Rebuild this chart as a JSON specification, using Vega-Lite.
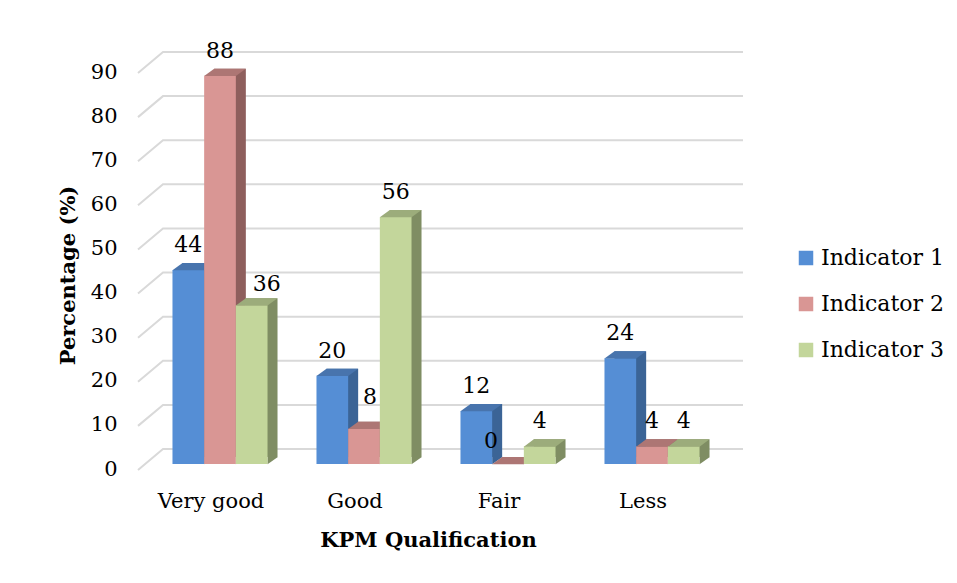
{
  "$schema": "https://vega.github.io/schema/vega-lite/v6.json",
  "width": 580,
  "height": 397,
  "autosize": {"type": "none"},
  "padding": {"left": 163, "top": 67, "right": 214, "bottom": 119},
  "background": "white",
  "datasets": {
    "main": [
      {"cat": "Very good", "ind": "Indicator 1", "v": 44},
      {"cat": "Very good", "ind": "Indicator 2", "v": 88},
      {"cat": "Very good", "ind": "Indicator 3", "v": 36},
      {"cat": "Good", "ind": "Indicator 1", "v": 20},
      {"cat": "Good", "ind": "Indicator 2", "v": 8},
      {"cat": "Good", "ind": "Indicator 3", "v": 56},
      {"cat": "Fair", "ind": "Indicator 1", "v": 12},
      {"cat": "Fair", "ind": "Indicator 2", "v": 0},
      {"cat": "Fair", "ind": "Indicator 3", "v": 4},
      {"cat": "Less", "ind": "Indicator 1", "v": 24},
      {"cat": "Less", "ind": "Indicator 2", "v": 4},
      {"cat": "Less", "ind": "Indicator 3", "v": 4}
    ],
    "grid": [
      {"v": 0}, {"v": 10}, {"v": 20}, {"v": 30}, {"v": 40},
      {"v": 50}, {"v": 60}, {"v": 70}, {"v": 80}, {"v": 90}
    ]
  },
  "data": {"name": "main"},
  "encoding": {
    "y": {
      "field": "v", "type": "quantitative",
      "scale": {"domain": [0, 90], "nice": false},
      "axis": {
        "title": "Percentage (%)",
        "values": [0, 10, 20, 30, 40, 50, 60, 70, 80, 90],
        "grid": false, "domain": false, "ticks": false,
        "labelPadding": 46, "labelOffset": 5, "titlePadding": 12, "titleY": 208
      }
    }
  },
  "resolve": {"scale": {"xOffset": "independent"}},
  "layer": [
    {
      "data": {"name": "grid"},
      "mark": {"type": "point", "shape": "M -315 6 L -290 -15 L 290 -15", "size": 4, "filled": false, "stroke": "#d9d9d9", "strokeWidth": 2, "opacity": 1}
    },
    {
      "transform": [{"filter": "datum.ind == 'Indicator 1'"}],
      "mark": {"type": "bar", "color": "#3b6496", "yOffset": -7, "y2Offset": -7},
      "encoding": {
        "x": {"field": "cat", "type": "nominal", "sort": ["Very good", "Good", "Fair", "Less"], "scale": {"range": [-15, 561], "paddingInner": 0.34, "paddingOuter": 0.17}, "axis": {"title": "KPM Qualification", "labelAngle": 0, "domain": false, "ticks": false, "labelPadding": 26, "labelOffset": -9, "titlePadding": 18, "titleX": 265}},
        "xOffset": {"field": "ind", "type": "nominal", "scale": {"domain": ["Indicator 1", "Indicator 2", "Indicator 3"], "range": [10, 105.04]}}
      }
    },
    {
      "transform": [{"filter": "datum.ind == 'Indicator 1'"}],
      "mark": {"type": "point", "shape": "M 15.84 -7 L 26.2 -7 L 15.84 0.3 Z", "size": 4, "filled": true, "color": "#3b6496", "opacity": 1, "strokeWidth": 0},
      "encoding": {
        "x": {"field": "cat", "type": "nominal", "sort": ["Very good", "Good", "Fair", "Less"]},
        "xOffset": {"field": "ind", "type": "nominal", "scale": {"domain": ["Indicator 1", "Indicator 2", "Indicator 3"]}},
        "y": {"datum": 0}
      }
    },
    {
      "transform": [{"filter": "datum.ind == 'Indicator 1'"}],
      "mark": {"type": "bar"},
      "encoding": {
        "x": {"field": "cat", "type": "nominal", "sort": ["Very good", "Good", "Fair", "Less"]},
        "xOffset": {"field": "ind", "type": "nominal", "scale": {"domain": ["Indicator 1", "Indicator 2", "Indicator 3"]}},
        "color": {"field": "ind", "type": "nominal", "scale": {"domain": ["Indicator 1", "Indicator 2", "Indicator 3"], "range": ["#558ed5", "#d99694", "#c3d69b"]}, "legend": {"orient": "none", "legendX": 632, "legendY": 180, "title": null, "symbolType": "square", "symbolSize": 210, "symbolStrokeWidth": 0, "labelFontSize": 22, "labelFont": "DejaVu Serif", "labelColor": "#000", "labelOffset": 4, "rowPadding": 24}}
      }
    },
    {
      "transform": [{"filter": "datum.ind == 'Indicator 1'"}],
      "mark": {"type": "point", "shape": "M -15.84 0.3 L 15.84 0.3 L 25.84 -7 L -5.84 -7 Z", "size": 4, "filled": true, "color": "#4874ad", "opacity": 1, "strokeWidth": 0},
      "encoding": {
        "x": {"field": "cat", "type": "nominal", "sort": ["Very good", "Good", "Fair", "Less"]},
        "xOffset": {"field": "ind", "type": "nominal", "scale": {"domain": ["Indicator 1", "Indicator 2", "Indicator 3"]}}
      }
    },
    {
      "transform": [{"filter": "datum.ind == 'Indicator 2'"}],
      "mark": {"type": "bar", "color": "#8e5f5d", "yOffset": -7, "y2Offset": -7},
      "encoding": {
        "x": {"field": "cat", "type": "nominal", "sort": ["Very good", "Good", "Fair", "Less"]},
        "xOffset": {"field": "ind", "type": "nominal", "scale": {"domain": ["Indicator 1", "Indicator 2", "Indicator 3"], "range": [10, 105.04]}}
      }
    },
    {
      "transform": [{"filter": "datum.ind == 'Indicator 2'"}],
      "mark": {"type": "point", "shape": "M 15.84 -7 L 26.2 -7 L 15.84 0.3 Z", "size": 4, "filled": true, "color": "#8e5f5d", "opacity": 1, "strokeWidth": 0},
      "encoding": {
        "x": {"field": "cat", "type": "nominal", "sort": ["Very good", "Good", "Fair", "Less"]},
        "xOffset": {"field": "ind", "type": "nominal", "scale": {"domain": ["Indicator 1", "Indicator 2", "Indicator 3"]}},
        "y": {"datum": 0}
      }
    },
    {
      "transform": [{"filter": "datum.ind == 'Indicator 2'"}],
      "mark": {"type": "bar"},
      "encoding": {
        "x": {"field": "cat", "type": "nominal", "sort": ["Very good", "Good", "Fair", "Less"]},
        "xOffset": {"field": "ind", "type": "nominal", "scale": {"domain": ["Indicator 1", "Indicator 2", "Indicator 3"]}},
        "color": {"field": "ind", "type": "nominal", "scale": {"domain": ["Indicator 1", "Indicator 2", "Indicator 3"], "range": ["#558ed5", "#d99694", "#c3d69b"]}}
      }
    },
    {
      "transform": [{"filter": "datum.ind == 'Indicator 2'"}],
      "mark": {"type": "point", "shape": "M -15.84 0.3 L 15.84 0.3 L 25.84 -7 L -5.84 -7 Z", "size": 4, "filled": true, "color": "#ad7674", "opacity": 1, "strokeWidth": 0},
      "encoding": {
        "x": {"field": "cat", "type": "nominal", "sort": ["Very good", "Good", "Fair", "Less"]},
        "xOffset": {"field": "ind", "type": "nominal", "scale": {"domain": ["Indicator 1", "Indicator 2", "Indicator 3"]}}
      }
    },
    {
      "transform": [{"filter": "datum.ind == 'Indicator 3'"}],
      "mark": {"type": "bar", "color": "#7f8d63", "yOffset": -7, "y2Offset": -7},
      "encoding": {
        "x": {"field": "cat", "type": "nominal", "sort": ["Very good", "Good", "Fair", "Less"]},
        "xOffset": {"field": "ind", "type": "nominal", "scale": {"domain": ["Indicator 1", "Indicator 2", "Indicator 3"], "range": [10, 105.04]}}
      }
    },
    {
      "transform": [{"filter": "datum.ind == 'Indicator 3'"}],
      "mark": {"type": "point", "shape": "M 15.84 -7 L 26.2 -7 L 15.84 0.3 Z", "size": 4, "filled": true, "color": "#7f8d63", "opacity": 1, "strokeWidth": 0},
      "encoding": {
        "x": {"field": "cat", "type": "nominal", "sort": ["Very good", "Good", "Fair", "Less"]},
        "xOffset": {"field": "ind", "type": "nominal", "scale": {"domain": ["Indicator 1", "Indicator 2", "Indicator 3"]}},
        "y": {"datum": 0}
      }
    },
    {
      "transform": [{"filter": "datum.ind == 'Indicator 3'"}],
      "mark": {"type": "bar"},
      "encoding": {
        "x": {"field": "cat", "type": "nominal", "sort": ["Very good", "Good", "Fair", "Less"]},
        "xOffset": {"field": "ind", "type": "nominal", "scale": {"domain": ["Indicator 1", "Indicator 2", "Indicator 3"]}},
        "color": {"field": "ind", "type": "nominal", "scale": {"domain": ["Indicator 1", "Indicator 2", "Indicator 3"], "range": ["#558ed5", "#d99694", "#c3d69b"]}}
      }
    },
    {
      "transform": [{"filter": "datum.ind == 'Indicator 3'"}],
      "mark": {"type": "point", "shape": "M -15.84 0.3 L 15.84 0.3 L 25.84 -7 L -5.84 -7 Z", "size": 4, "filled": true, "color": "#9cac7b", "opacity": 1, "strokeWidth": 0},
      "encoding": {
        "x": {"field": "cat", "type": "nominal", "sort": ["Very good", "Good", "Fair", "Less"]},
        "xOffset": {"field": "ind", "type": "nominal", "scale": {"domain": ["Indicator 1", "Indicator 2", "Indicator 3"]}}
      }
    },
    {
      "transform": [{"filter": "!((datum.cat == 'Very good' && datum.ind == 'Indicator 3') || (datum.cat == 'Good' && datum.ind == 'Indicator 2') || (datum.cat == 'Fair' && datum.ind == 'Indicator 2'))"}],
      "mark": {"type": "text", "dy": -25, "baseline": "middle", "fontSize": 22, "font": "DejaVu Serif", "color": "#000"},
      "encoding": {
        "x": {"field": "cat", "type": "nominal", "sort": ["Very good", "Good", "Fair", "Less"]},
        "xOffset": {"field": "ind", "type": "nominal", "scale": {"domain": ["Indicator 1", "Indicator 2", "Indicator 3"]}},
        "text": {"field": "v", "type": "quantitative"}
      }
    },
    {
      "transform": [{"filter": "datum.cat == 'Very good' && datum.ind == 'Indicator 3'"}],
      "mark": {"type": "text", "dy": -21, "dx": 15, "baseline": "middle", "fontSize": 22, "font": "DejaVu Serif", "color": "#000"},
      "encoding": {
        "x": {"field": "cat", "type": "nominal", "sort": ["Very good", "Good", "Fair", "Less"]},
        "xOffset": {"field": "ind", "type": "nominal", "scale": {"domain": ["Indicator 1", "Indicator 2", "Indicator 3"]}},
        "text": {"field": "v", "type": "quantitative"}
      }
    },
    {
      "transform": [{"filter": "datum.cat == 'Good' && datum.ind == 'Indicator 2'"}],
      "mark": {"type": "text", "dy": -32, "dx": 6, "baseline": "middle", "fontSize": 22, "font": "DejaVu Serif", "color": "#000"},
      "encoding": {
        "x": {"field": "cat", "type": "nominal", "sort": ["Very good", "Good", "Fair", "Less"]},
        "xOffset": {"field": "ind", "type": "nominal", "scale": {"domain": ["Indicator 1", "Indicator 2", "Indicator 3"]}},
        "text": {"field": "v", "type": "quantitative"}
      }
    },
    {
      "transform": [{"filter": "datum.cat == 'Fair' && datum.ind == 'Indicator 2'"}],
      "mark": {"type": "text", "dy": -23, "dx": -17, "baseline": "middle", "fontSize": 22, "font": "DejaVu Serif", "color": "#000"},
      "encoding": {
        "x": {"field": "cat", "type": "nominal", "sort": ["Very good", "Good", "Fair", "Less"]},
        "xOffset": {"field": "ind", "type": "nominal", "scale": {"domain": ["Indicator 1", "Indicator 2", "Indicator 3"]}},
        "text": {"field": "v", "type": "quantitative"}
      }
    }
  ],
  "config": {
    "view": {"stroke": null},
    "font": "DejaVu Serif",
    "axis": {
      "labelFont": "DejaVu Serif", "labelFontSize": 21, "labelColor": "#000",
      "titleFont": "DejaVu Serif", "titleFontSize": 21, "titleFontWeight": "bold", "titleColor": "#000"
    }
  }
}
